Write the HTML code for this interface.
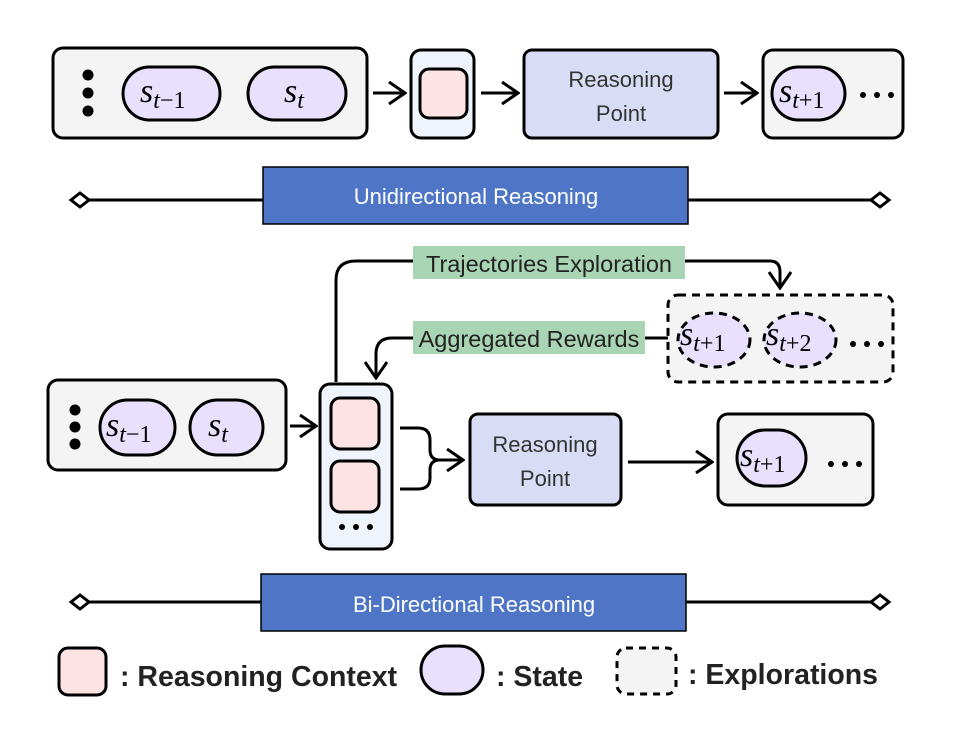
<!DOCTYPE html>
<html><head><meta charset="utf-8"><style>
body{margin:0;background:#fff}
svg{display:block}
.m{font-family:"Liberation Serif",serif;font-style:italic}
.sans{font-family:"Liberation Sans","DejaVu Sans",sans-serif}
</style></head><body>
<svg width="960" height="748" viewBox="0 0 960 748" xmlns="http://www.w3.org/2000/svg">
<defs>
<marker id="ah2" viewBox="0 0 20 24" refX="18" refY="12" markerWidth="20" markerHeight="24" markerUnits="userSpaceOnUse" orient="auto">
<path d="M2,1 L18,12 L2,23" fill="none" stroke="#000" stroke-width="3"/></marker>
</defs>
<g stroke="#000" stroke-width="3">
<rect x="53" y="48" width="314" height="90" rx="10" fill="#f4f4f4"/>
<circle cx="88" cy="75" r="5.5" fill="#000" stroke="none"/><circle cx="88" cy="93" r="5.5" fill="#000" stroke="none"/><circle cx="88" cy="111" r="5.5" fill="#000" stroke="none"/>
<rect x="123" y="67" width="97" height="53" rx="26.5" fill="#e8e0fc"/>
<rect x="248" y="67" width="98" height="53" rx="26.5" fill="#e8e0fc"/>
<line x1="373" y1="93" x2="405" y2="93" marker-end="url(#ah2)"/>
<rect x="411" y="50" width="63" height="88" rx="10" fill="#eef3fc"/>
<rect x="420" y="69" width="47" height="49" rx="9" fill="#fde3e3"/>
<line x1="481" y1="93" x2="518" y2="93" marker-end="url(#ah2)"/>
<rect x="524" y="50" width="194" height="88" rx="8" fill="#d8dcf4"/>
<line x1="724" y1="93" x2="757" y2="93" marker-end="url(#ah2)"/>
<rect x="763" y="50" width="140" height="88" rx="10" fill="#f4f4f4"/>
<rect x="772" y="67" width="73" height="53" rx="26.5" fill="#e8e0fc"/>
<line x1="84" y1="200" x2="876" y2="200"/>
<path d="M71,200 L80,193 L89,200 L80,207 Z" fill="#fff"/>
<path d="M871,200 L880,193 L889,200 L880,207 Z" fill="#fff"/>
<rect x="263" y="167" width="425" height="57" fill="#4f76c6" stroke-width="1.5"/>
<rect x="48" y="380" width="238" height="90" rx="10" fill="#f4f4f4"/>
<circle cx="75" cy="410" r="5.5" fill="#000" stroke="none"/><circle cx="75" cy="427" r="5.5" fill="#000" stroke="none"/><circle cx="75" cy="444" r="5.5" fill="#000" stroke="none"/>
<rect x="100" y="400" width="75" height="55" rx="27.5" fill="#e8e0fc"/>
<rect x="190" y="400" width="73" height="55" rx="27.5" fill="#e8e0fc"/>
<line x1="290" y1="426" x2="316" y2="426" marker-end="url(#ah2)"/>
<rect x="320" y="384" width="72" height="165" rx="10" fill="#eef3fc"/>
<rect x="331" y="398" width="48" height="51" rx="9" fill="#fde3e3"/>
<rect x="331" y="461" width="48" height="51" rx="9" fill="#fde3e3"/>
<circle cx="342" cy="527" r="3" fill="#000" stroke="none"/><circle cx="356" cy="527" r="3" fill="#000" stroke="none"/><circle cx="370" cy="527" r="3" fill="#000" stroke="none"/>
<path d="M400,428 L418,428 Q430,428 430,440 L430,450 Q430,460 440,460 Q430,460 430,470 L430,478 Q430,489 418,489 L400,489" fill="none"/>
<line x1="440" y1="460" x2="463" y2="460" marker-end="url(#ah2)"/>
<rect x="470" y="414" width="151" height="91" rx="8" fill="#d8dcf4"/>
<line x1="628" y1="462" x2="712" y2="462" marker-end="url(#ah2)"/>
<rect x="718" y="414" width="155" height="91" rx="10" fill="#f4f4f4"/>
<rect x="737" y="430" width="69" height="56" rx="28" fill="#e8e0fc"/>
<rect x="668" y="295" width="225" height="87" rx="10" fill="#f4f4f4" stroke-dasharray="8,6"/>
<ellipse cx="714" cy="340" rx="36" ry="27" fill="#e8e0fc" stroke-dasharray="8,6"/>
<ellipse cx="800" cy="340" rx="36" ry="27" fill="#e8e0fc" stroke-dasharray="8,6"/>
<path d="M336,382 L336,280 Q336,261 356,261 L413,261" fill="none"/>
<path d="M685,261 L770,261 Q780,261 780,272 L780,288" fill="none" marker-end="url(#ah2)"/>
<line x1="668" y1="338" x2="645" y2="338"/>
<path d="M413,338 L392,338 Q376,338 376,354 L376,378" fill="none" marker-end="url(#ah2)"/>
<rect x="413" y="246" width="272" height="33" fill="#a9d5b5" stroke="none"/>
<rect x="413" y="321" width="232" height="33" fill="#a9d5b5" stroke="none"/>
<line x1="84" y1="602" x2="876" y2="602"/>
<path d="M71,602 L80,595 L89,602 L80,609 Z" fill="#fff"/>
<path d="M871,602 L880,595 L889,602 L880,609 Z" fill="#fff"/>
<rect x="261" y="574" width="425" height="57" fill="#4f76c6" stroke-width="1.5"/>
<rect x="59" y="648" width="47" height="47" rx="9" fill="#fde3e3"/>
<rect x="421" y="646" width="62" height="48" rx="24" fill="#e8e0fc"/>
<rect x="617" y="648" width="59" height="46" rx="9" fill="#f4f4f4" stroke-dasharray="7,6"/>
</g>
<g fill="#000">
<circle cx="863" cy="95" r="3"/><circle cx="877" cy="95" r="3"/><circle cx="891" cy="95" r="3"/>
<circle cx="831" cy="464" r="3"/><circle cx="845" cy="464" r="3"/><circle cx="859" cy="464" r="3"/>
<circle cx="853" cy="344" r="3"/><circle cx="867" cy="344" r="3"/><circle cx="881" cy="344" r="3"/>
</g>
<g class="m" fill="#000" font-size="34">
<text x="140" y="102">s<tspan font-size="24" dy="6">t</tspan><tspan font-size="24" font-style="normal">−1</tspan></text>
<text x="284" y="102">s<tspan font-size="24" dy="6">t</tspan></text>
<text x="779" y="102">s<tspan font-size="24" dy="6">t</tspan><tspan font-size="24" font-style="normal">+1</tspan></text>
<text x="106" y="436">s<tspan font-size="24" dy="6">t</tspan><tspan font-size="24" font-style="normal">−1</tspan></text>
<text x="208" y="436">s<tspan font-size="24" dy="6">t</tspan></text>
<text x="740" y="466">s<tspan font-size="24" dy="6">t</tspan><tspan font-size="24" font-style="normal">+1</tspan></text>
<text x="680" y="345">s<tspan font-size="24" dy="6">t</tspan><tspan font-size="24" font-style="normal">+1</tspan></text>
<text x="766" y="345">s<tspan font-size="24" dy="6">t</tspan><tspan font-size="24" font-style="normal">+2</tspan></text>
</g>
<g class="sans" font-size="22" text-anchor="middle" fill="#333">
<text x="621" y="87">Reasoning</text><text x="621" y="121">Point</text>
<text x="545" y="452">Reasoning</text><text x="545" y="486">Point</text>
<text x="549" y="272" fill="#222" font-size="23.5">Trajectories Exploration</text>
<text x="529" y="347" fill="#222" font-size="23.5">Aggregated Rewards</text>
<text x="476" y="204" fill="#fff">Unidirectional Reasoning</text>
<text x="474" y="612" fill="#fff">Bi-Directional Reasoning</text>
</g>
<g class="sans" font-size="28.5" font-weight="bold" fill="#222">
<text x="120" y="686">: Reasoning Context</text>
<text x="496" y="686">: State</text>
<text x="688" y="684">: Explorations</text>
</g>
</svg>
</body></html>
